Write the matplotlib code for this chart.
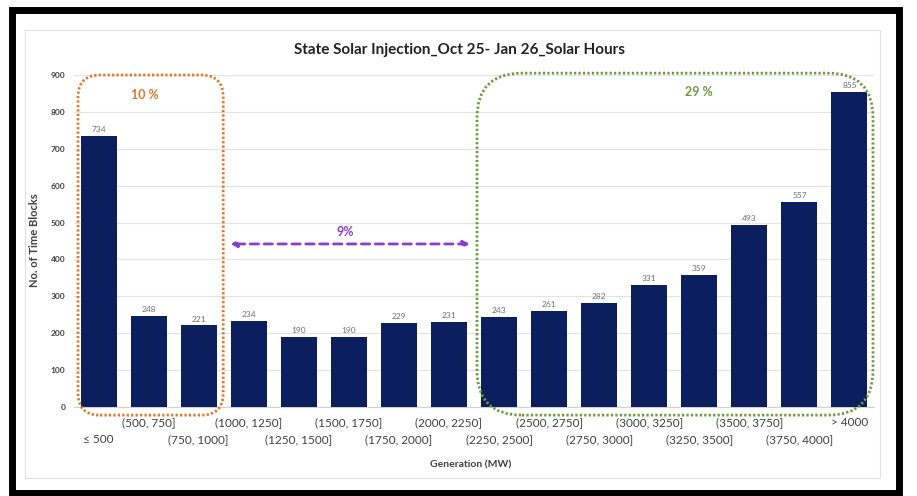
import matplotlib
matplotlib.use("Agg")
import matplotlib.pyplot as plt
from matplotlib.patches import FancyBboxPatch, Rectangle
from matplotlib.transforms import IdentityTransform

categories = ["≤ 500", "(500, 750]", "(750, 1000]", "(1000, 1250]", "(1250, 1500]",
              "(1500, 1750]", "(1750, 2000]", "(2000, 2250]", "(2250, 2500]",
              "(2500, 2750]", "(2750, 3000]", "(3000, 3250]", "(3250, 3500]",
              "(3500, 3750]", "(3750, 4000]", "> 4000"]
values = [734, 248, 221, 234, 190, 190, 229, 231, 243, 261, 282, 331, 359, 493, 557, 855]
yticks = [0, 100, 200, 300, 400, 500, 600, 700, 800, 900]

title = "State Solar Injection_Oct 25- Jan 26_Solar Hours"
xlabel = "Generation (MW)"
ylabel = "No. of Time Blocks"

plt.rcParams['font.family'] = ['Lato', 'DejaVu Sans']

W, H = 917, 496
fig = plt.figure(figsize=(W / 100, H / 100), dpi=100)
fig.patch.set_facecolor("white")

ax = fig.add_axes([73.5 / W, 89 / H, 801 / W, 332 / H])
x = list(range(len(categories)))
bars = ax.bar(x, values, width=0.72, color="#0B1F5E", zorder=3)
ax.set_xlim(-0.5, len(categories) - 0.5)
ax.set_ylim(0, 900)
ax.set_yticks(yticks)
ax.tick_params(axis='y', length=0, labelsize=6, labelcolor="#404040", pad=6)
for lbl in ax.get_yticklabels():
    lbl.set_fontweight('bold')
ax.grid(axis='y', color="#e3e3e3", linewidth=0.8, zorder=0)
for s in ["top", "right", "left"]:
    ax.spines[s].set_visible(False)
ax.spines["bottom"].set_color("#d0d0d0")

for xi, v in zip(x, values):
    ax.text(xi, v + 8, str(v), ha='center', va='bottom', fontsize=6, color="#707070")

even = [i for i in x if i % 2 == 0]
odd = [i for i in x if i % 2 == 1]
ax.set_xticks(even, [categories[i] for i in even])
ax.set_xticks(odd, [categories[i] for i in odd], minor=True)
ax.tick_params(axis='x', which='major', length=0, pad=19.5, labelsize=8.5, labelcolor="#404040")
ax.tick_params(axis='x', which='minor', length=0, pad=7, labelsize=8.5, labelcolor="#404040")

fig.text(459 / W, 1 - 50 / H, title, ha='center', va='center', fontsize=11, fontweight='bold', color="#222222")
fig.text(471 / W, 1 - 465 / H, xlabel, ha='center', va='center', fontsize=7.5, fontweight='bold', color="#404040")
fig.text(35 / W, 1 - 240 / H, ylabel, ha='center', va='center', rotation=90, fontsize=8, fontweight='bold', color="#404040")

# annotations in data coordinates, converted to display pixels for rounded boxes
def rbox(x0, y0, x1, y1, color, r):
    (px0, py0), (px1, py1) = ax.transData.transform([(x0, y0), (x1, y1)])
    p = FancyBboxPatch((px0, py0), px1 - px0, py1 - py0,
                       boxstyle=f"round,pad=0,rounding_size={r}",
                       transform=IdentityTransform(), fill=False,
                       edgecolor=color, linewidth=2.0, linestyle=(0, (0.8, 0.8)),
                       zorder=5)
    fig.add_artist(p)

rbox(-0.41, -22, 2.49, 900, "#E0782A", 22)
rbox(7.56, -22, 15.47, 905, "#6E9A3C", 45)

ax.text(0.93, 845, "10 %", ha='center', va='center', fontsize=9, fontweight='bold', color="#E0782A")
ax.text(12.0, 853, "29 %", ha='center', va='center', fontsize=9, fontweight='bold', color="#6E9A3C")

ax.annotate("", xy=(2.63, 442), xytext=(7.42, 442),
            arrowprops=dict(arrowstyle="<|-|>", color="#8A3FC8", linewidth=2,
                            linestyle=(0, (3, 2)), mutation_scale=9, shrinkA=0, shrinkB=0))
ax.text(4.92, 475, "9%", ha='center', va='center', fontsize=9, fontweight='bold', color="#8A3FC8")

# chart-area border and outer black frame
fig.add_artist(Rectangle((25 / W, 1 - 478 / H), 855 / W, 448 / H, transform=fig.transFigure,
                         fill=False, edgecolor="#e0e0e0", linewidth=0.8))
fig.add_artist(Rectangle((11.5 / W, 3 / H), 887.5 / W, 483 / H, transform=fig.transFigure,
                         fill=False, edgecolor="black", linewidth=5))

fig.savefig("out.png", dpi=100, facecolor="white")
